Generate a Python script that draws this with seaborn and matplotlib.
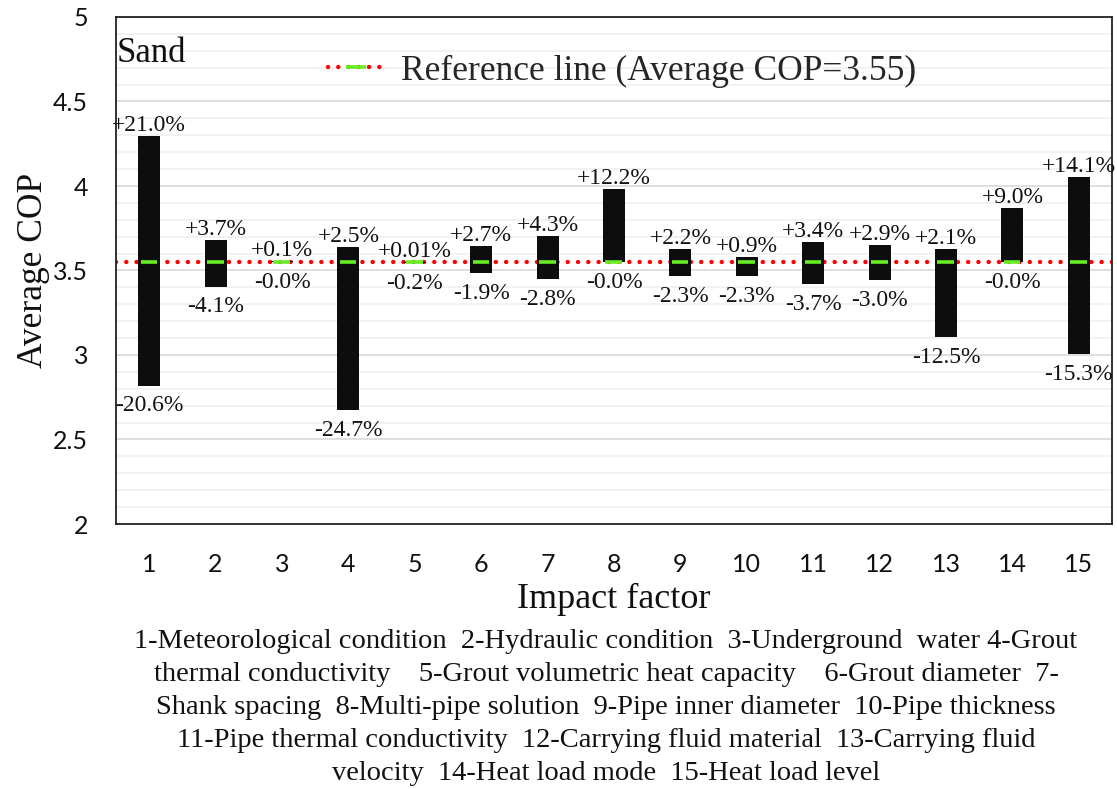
import matplotlib
matplotlib.use("Agg")
import matplotlib.pyplot as plt
import seaborn as sns
import numpy as np
import pandas as pd
from matplotlib.lines import Line2D
from matplotlib.ticker import MultipleLocator

# Impact factors and the relative change of average COP around the reference
factors = [str(i) for i in range(1, 16)]
increase_pct = [21.0, 3.7, 0.1, 2.5, 0.01, 2.7, 4.3, 12.2, 2.2, 0.9, 3.4, 2.9, 2.1, 9.0, 14.1]
decrease_pct = [-20.6, -4.1, -0.0, -24.7, -0.2, -1.9, -2.8, -0.0, -2.3, -2.3, -3.7, -3.0, -12.5, -0.0, -15.3]
increase_labels = ["+21.0%", "+3.7%", "+0.1%", "+2.5%", "+0.01%", "+2.7%", "+4.3%", "+12.2%",
                   "+2.2%", "+0.9%", "+3.4%", "+2.9%", "+2.1%", "+9.0%", "+14.1%"]
decrease_labels = ["-20.6%", "-4.1%", "-0.0%", "-24.7%", "-0.2%", "-1.9%", "-2.8%", "-0.0%",
                   "-2.3%", "-2.3%", "-3.7%", "-3.0%", "-12.5%", "-0.0%", "-15.3%"]
reference_cop = 3.55
y_ticks = [2, 2.5, 3, 3.5, 4, 4.5, 5]
caption_lines = [
    "1-Meteorological condition  2-Hydraulic condition  3-Underground  water 4-Grout",
    "thermal conductivity    5-Grout volumetric heat capacity    6-Grout diameter  7-",
    "Shank spacing  8-Multi-pipe solution  9-Pipe inner diameter  10-Pipe thickness",
    "11-Pipe thermal conductivity  12-Carrying fluid material  13-Carrying fluid",
    "velocity  14-Heat load mode  15-Heat load level",
]

high = reference_cop * (1 + np.array(increase_pct) / 100)
low = reference_cop * (1 + np.array(decrease_pct) / 100)
df = pd.DataFrame({"factor": factors, "span": high - low, "low": low, "high": high})

sns.set_theme(style="white")
serif = ["Liberation Serif", "DejaVu Serif"]
sans = ["Lato", "DejaVu Sans"]

fig = plt.figure(figsize=(11.17, 7.89), dpi=100)
ax = fig.add_axes([116 / 1117, 1 - 524 / 789, (1112 - 116) / 1117, (524 - 17) / 789])

# floating bars between the lowest and highest COP of each factor
sns.barplot(data=df, x="factor", y="span", bottom=df["low"].values, color="#0d0d0d",
            saturation=1, width=0.33, errorbar=None, ax=ax, zorder=3, linewidth=0)

pos = np.arange(len(factors))
ax.axhline(reference_cop, color="#ff0000", lw=3.2, linestyle=(0, (0.01, 2.3)),
           dash_capstyle="round", zorder=2)
ax.hlines([reference_cop] * len(pos), pos - 0.13, pos + 0.12, color="#66ee22", lw=2.6, zorder=4)

for i in range(len(factors)):
    ax.annotate(increase_labels[i], (pos[i], df["high"][i]), xytext=(0, 0),
                textcoords="offset points", ha="center", va="bottom",
                fontsize=17, family=serif, color="#111111", zorder=5)
    ax.annotate(decrease_labels[i], (pos[i], df["low"][i]), xytext=(0, -7),
                textcoords="offset points", ha="center", va="top",
                fontsize=17, family=serif, color="#111111", zorder=5)

ax.set_ylim(2, 5)
ax.set_xlim(-0.5, len(factors) - 0.5)
ax.set_yticks(y_ticks)
ax.set_yticklabels([f"{t:g}" for t in y_ticks])
ax.yaxis.set_minor_locator(MultipleLocator(0.1))
ax.grid(axis="y", which="major", color="#d9d9d9", lw=1.2, zorder=0)
ax.grid(axis="y", which="minor", color="#f0f0f0", lw=1.2, zorder=0)
ax.grid(axis="x", visible=False)
ax.set_axisbelow(True)
ax.tick_params(axis="y", which="both", length=0, pad=20, labelsize=18)
ax.tick_params(axis="x", length=0, pad=21, labelsize=18)
for lab in ax.get_xticklabels() + ax.get_yticklabels():
    lab.set_family(sans)
    lab.set_color("#111111")
for sp in ax.spines.values():
    sp.set_color("#222222")
    sp.set_linewidth(1.3)

ax.set_ylabel("Average COP", family=serif, fontsize=25.5, color="#111111")
ax.yaxis.set_label_coords(-0.066, 0.5)
ax.set_xlabel("Impact factor", family=serif, fontsize=26, labelpad=5, color="#111111")

ax.text(0.001, 0.928, "Sand", transform=ax.transAxes, family=serif, fontsize=25,
        va="center", ha="left", color="#111111")

handle = (
    Line2D([], [], color="#ff0000", lw=3.2, linestyle=(0, (0.01, 2.3)), dash_capstyle="round"),
    Line2D([], [], color="#66ee22", lw=0, marker="_", markersize=15, markeredgewidth=2.6),
)
ax.legend([handle], [f"Reference line (Average COP={reference_cop})"], loc="center",
          bbox_to_anchor=(0.508, 0.893), frameon=False, handlelength=1.6, handletextpad=0.45,
          prop={"family": serif, "size": 25.5})

for k, line in enumerate(caption_lines):
    fig.text(606 / 1117, 1 - (641 + 33.2 * k) / 789, line, ha="center", va="center",
             family=serif, fontsize=20.5, color="#111111")

fig.savefig("out.png", dpi=100)
